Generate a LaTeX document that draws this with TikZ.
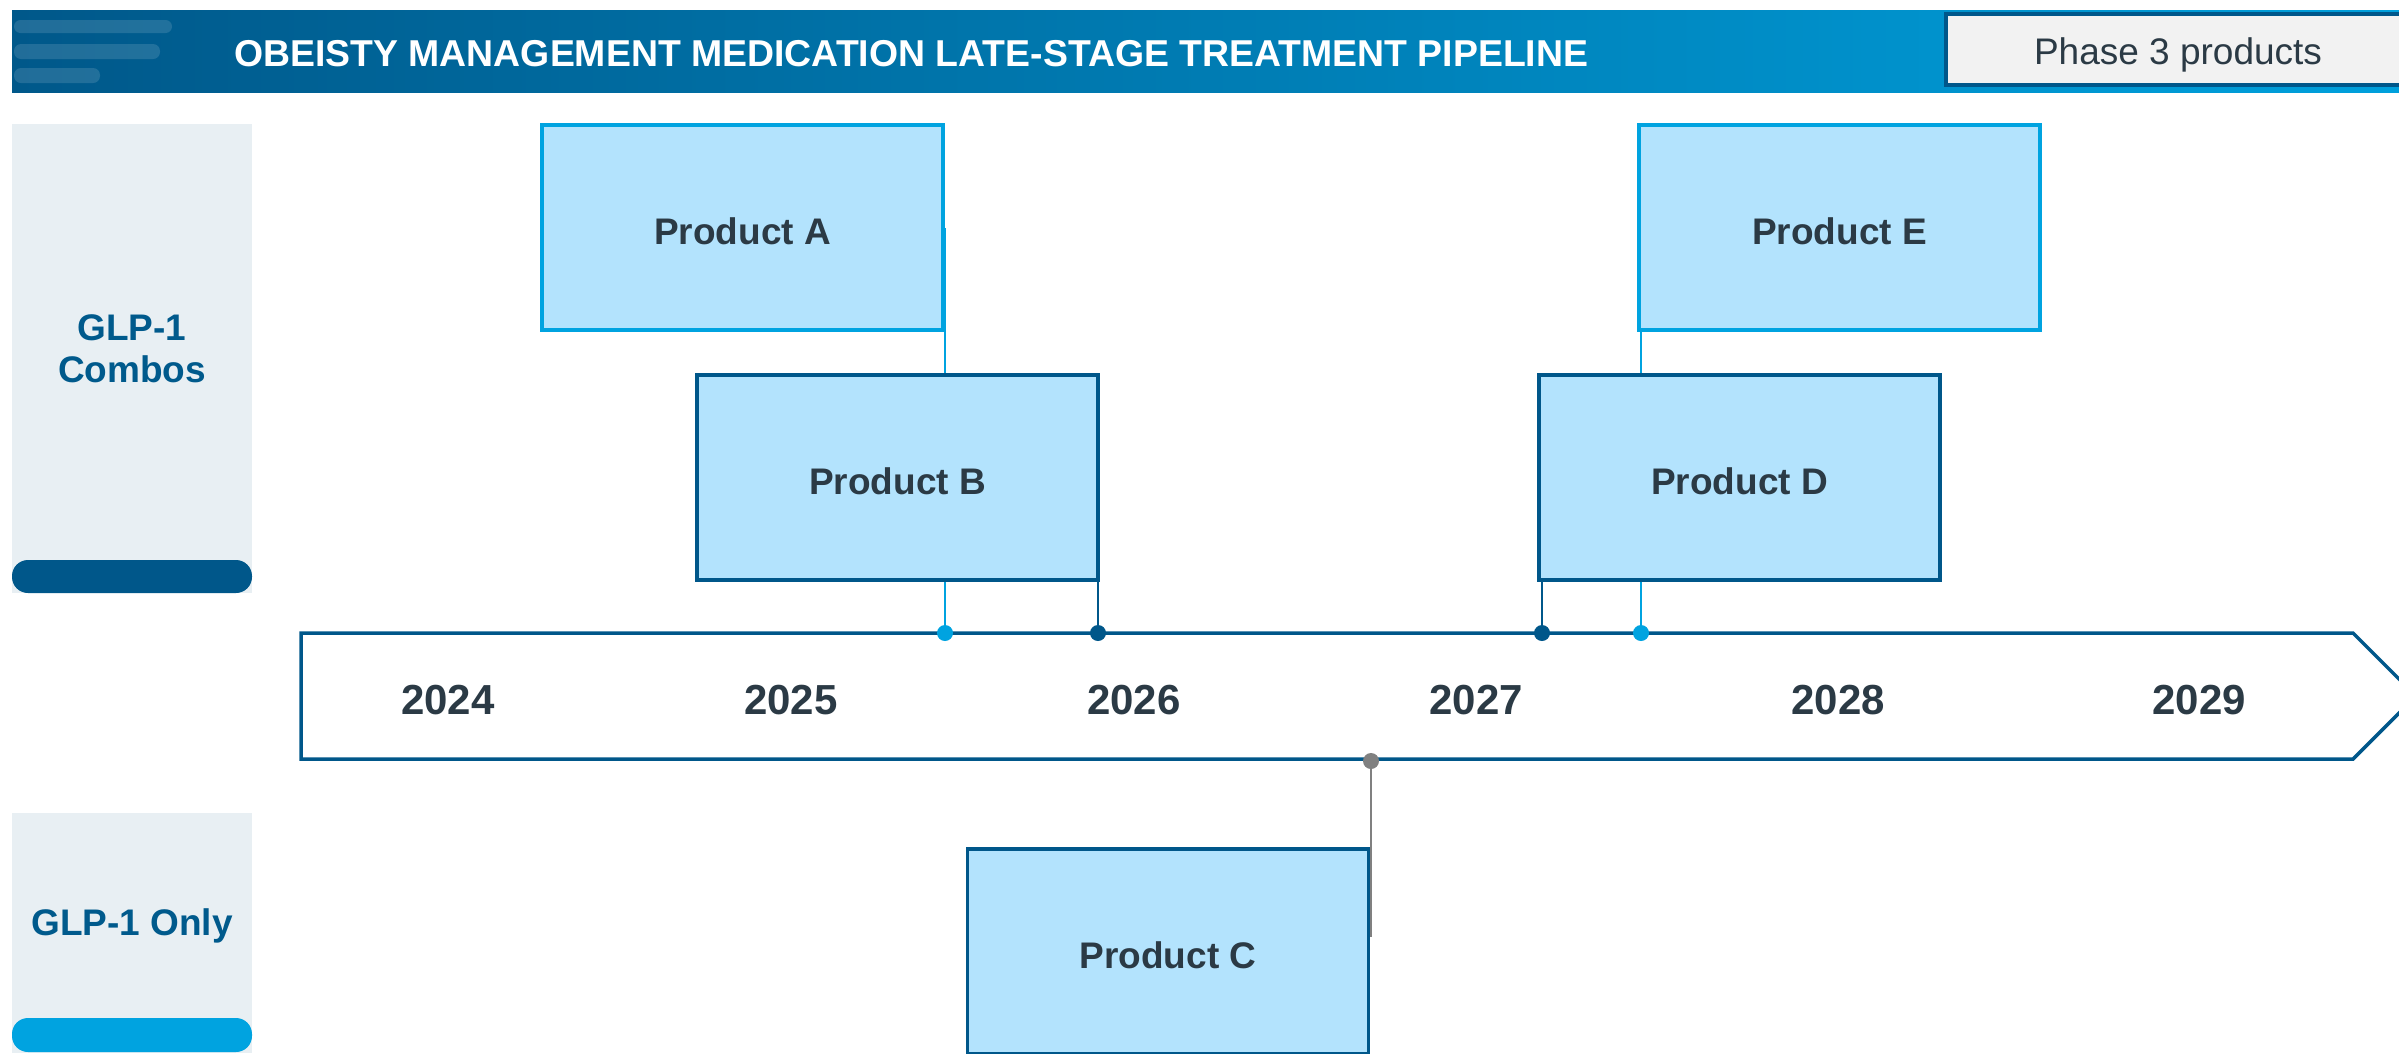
\documentclass[tikz,border=0pt]{standalone}
\usepackage{fontspec}
\setmainfont{Liberation Sans}
\usetikzlibrary{calc}
\definecolor{dblue}{HTML}{00578A}
\definecolor{navy}{HTML}{005A8C}
\definecolor{lblue}{HTML}{00A3E0}
\definecolor{boxfill}{HTML}{B3E3FD}
\definecolor{txt}{HTML}{2B3A45}
\definecolor{panelbg}{HTML}{E8EFF3}
\definecolor{greyc}{HTML}{808080}
\definecolor{hdrL}{HTML}{00588A}
\definecolor{hdrR}{HTML}{00A0DC}
\definecolor{phasebg}{HTML}{F2F2F2}
\tikzset{
  prod/.style={draw, fill=boxfill, line width=3.5pt, minimum width=401pt, minimum height=205pt, inner sep=0pt,
    text height=33pt, text depth=0pt, text=txt, font=\fontsize{37}{42}\selectfont\bfseries},
  prodL/.style={prod, draw=lblue},
  prodD/.style={prod, draw=dblue},
  tdot/.style={circle, inner sep=0pt, minimum size=16pt},
  yearlbl/.style={text=txt, font=\fontsize{42}{48}\selectfont\bfseries, inner sep=0pt},
  grplbl/.style={text=navy, font=\fontsize{37}{42}\selectfont\bfseries, align=center, inner sep=0pt},
  conn/.style={line width=2pt},
}
\begin{document}
\begin{tikzpicture}[x=1pt,y=-1pt]
\useasboundingbox (0,0) rectangle (2399,1053);
\clip (0,0) rectangle (2399,1053);
% header
\shade[left color=hdrL, right color=hdrR] (12,10) rectangle (2399,92);
\fill[white, opacity=0.13, rounded corners=6.5pt] (14,20) rectangle (172,33);
\fill[white, opacity=0.13, rounded corners=7pt] (14,44) rectangle (160,59);
\fill[white, opacity=0.13, rounded corners=7pt] (14,68) rectangle (100,83);
\node[anchor=west, text=white, font=\fontsize{37.4}{42}\selectfont\bfseries, inner sep=0pt] (title) at (234,53.5)
  {OBEISTY MANAGEMENT MEDICATION LATE-STAGE TREATMENT PIPELINE};
\draw[fill=phasebg, draw=dblue, line width=4pt] (1946,14) rectangle (2405,85);
\node[text=txt, font=\fontsize{37}{42}\selectfont, inner sep=0pt] (phase) at (2178,55) {Phase 3 products};
% left panels
\fill[panelbg] (12,124) rectangle (252,593);
\fill[dblue, rounded corners=16pt] (12,560) rectangle (252,593);
\node[grplbl] (g1) at (132,349) {GLP-1\\Combos};
\fill[panelbg] (12,813) rectangle (252,1053);
\fill[lblue, rounded corners=16pt] (12,1018) rectangle (252,1052);
\node[grplbl] (g2) at (132,926) {GLP-1 Only};
% dots positions
\coordinate (pA) at (945,633);
\coordinate (pB) at (1098,633);
\coordinate (pD) at (1542,633);
\coordinate (pE) at (1641,633);
\coordinate (pC) at (1371,761);
% product boxes
\node[prodL] (A) at (742.5,227.5) {Product A};
\node[prodL] (E) at (1839.5,227.5) {Product E};
% light connectors behind lower boxes
\draw[conn, lblue] (pA) -- (pA |- A.east);
\draw[conn, lblue] (pE) -- (pE |- E.south);
\node[prodD] (B) at (897.5,477.5) {Product B};
\node[prodD] (D) at (1739.5,477.5) {Product D};
\node[prodD] (C) at (1168,951.5) {Product C};
\draw[conn, dblue] (pB) -- (pB |- B.south);
\draw[conn, dblue] (pD) -- (pD |- D.south);
\draw[conn, greyc] (pC) -- (pC |- {$(C.north east)!0.43!(C.south east)$});
% timeline arrow
\draw[dblue, line width=3.5pt, fill=white, line join=miter] (301,633) -- (2353,633) -- (2416,696) -- (2353,759) -- (301,759) -- cycle;
\node[yearlbl] (y24) at (448,700) {2024};
\node[yearlbl] (y25) at (791,700) {2025};
\node[yearlbl] (y26) at (1134,700) {2026};
\node[yearlbl] (y27) at (1476,700) {2027};
\node[yearlbl] (y28) at (1838,700) {2028};
\node[yearlbl] (y29) at (2199,700) {2029};
% dots
\node[tdot, fill=lblue] (dA) at (pA) {};
\node[tdot, fill=dblue] (dB) at (pB) {};
\node[tdot, fill=dblue] (dD) at (pD) {};
\node[tdot, fill=lblue] (dE) at (pE) {};
\node[tdot, fill=greyc] (dC) at (pC) {};
\end{tikzpicture}
\end{document}
